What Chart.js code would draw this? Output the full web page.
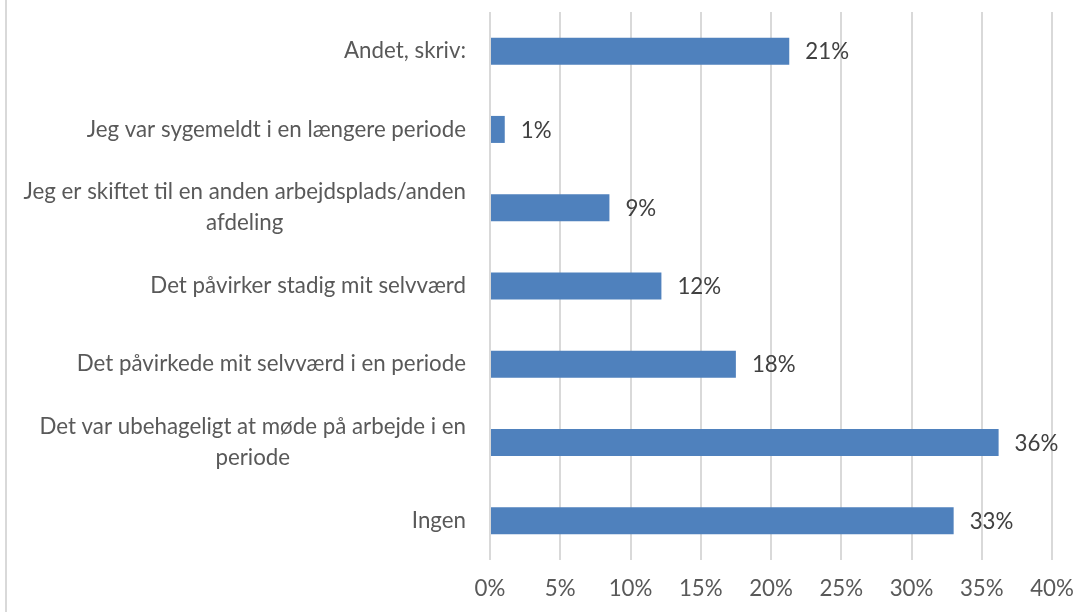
<!DOCTYPE html>
<html>
<head>
<meta charset="utf-8">
<script src="https://cdn.jsdelivr.net/npm/chart.js@4/dist/chart.umd.min.js"></script>
<style>
  html, body { margin: 0; padding: 0; background: #fff; }
  #wrap { position: relative; width: 1092px; height: 612px; }
  #kant { position: absolute; left: 5px; top: 0; width: 2px; height: 612px; background: #d9d9d9; }
  canvas { position: absolute; left: 0; top: 0; }
</style>
</head>
<body>
<div id="wrap">
  <div id="kant"></div>
  <canvas id="grafik" width="1092" height="612"></canvas>
</div>
<script>
// kategorier (oppefra og ned)
const kategorier = [
  ["Andet, skriv:"],
  ["Jeg var sygemeldt i en længere periode"],
  ["Jeg er skiftet til en anden arbejdsplads/anden", "afdeling"],
  ["Det påvirker stadig mit selvværd"],
  ["Det påvirkede mit selvværd i en periode"],
  ["Det var ubehageligt at møde på arbejde i en", "periode"],
  ["Ingen"]
];
const andele = [21.3, 1.05, 8.5, 12.2, 17.5, 36.2, 33.0];
const andelTekster = ["21%", "1%", "9%", "12%", "18%", "36%", "33%"];

const FONT = "Lato, 'Open Sans', sans-serif";
const FONTSIZE = 22.3;

// --- etiketter på søjler og kategorier ---
const etiketPlugin = {
  id: 'etiketter',
  afterDatasetsDraw(chart) {
    const ctx = chart.ctx;
    const meta = chart.getDatasetMeta(0);
    const yScale = chart.scales.y;
    ctx.save();
    ctx.font = FONTSIZE + "px " + FONT;
    ctx.textBaseline = 'middle';

    // værdier til højre for søjlen
    ctx.fillStyle = '#404040';
    ctx.textAlign = 'left';
    meta.data.forEach((bar, i) => {
      ctx.fillText(andelTekster[i], bar.x + 16, bar.y + 1);
    });

    // kategoritekster, centreret linje for linje som i Excel
    ctx.fillStyle = '#595959';
    ctx.textAlign = 'center';
    const hoejre = chart.chartArea.left - 24;
    const linjeH = 31;
    kategorier.forEach((linjer, i) => {
      const yc = yScale.getPixelForValue(i);
      const bredest = Math.max(...linjer.map(l => ctx.measureText(l).width));
      const xc = hoejre - bredest / 2;
      const y0 = yc - (linjer.length - 1) * linjeH / 2;
      linjer.forEach((l, j) => ctx.fillText(l, xc, y0 + j * linjeH));
    });
    ctx.restore();
  }
};

new Chart(document.getElementById('grafik').getContext('2d'), {
  type: 'bar',
  data: {
    labels: kategorier,
    datasets: [{
      data: andele,
      backgroundColor: '#4f81bd',
      borderWidth: 0,
      barPercentage: 0.69,
      categoryPercentage: 0.5
    }]
  },
  options: {
    indexAxis: 'y',
    responsive: false,
    animation: false,
    layout: { padding: { top: 12, right: 40, left: 0, bottom: 0 } },
    plugins: { legend: { display: false }, tooltip: { enabled: false } },
    scales: {
      x: {
        min: 0, max: 40,
        ticks: {
          stepSize: 5,
          padding: 15,
          color: '#595959',
          font: { family: FONT, size: FONTSIZE },
          callback: v => v + '%'
        },
        grid: { color: '#d9d9d9', lineWidth: 2, drawTicks: false },
        border: { display: false },
        afterFit: s => { s.height = 52; }
      },
      y: {
        ticks: { display: false },
        grid: { display: false },
        border: { display: false },
        afterFit: s => { s.width = 490; }
      }
    }
  },
  plugins: [etiketPlugin]
});
</script>
</body>
</html>
